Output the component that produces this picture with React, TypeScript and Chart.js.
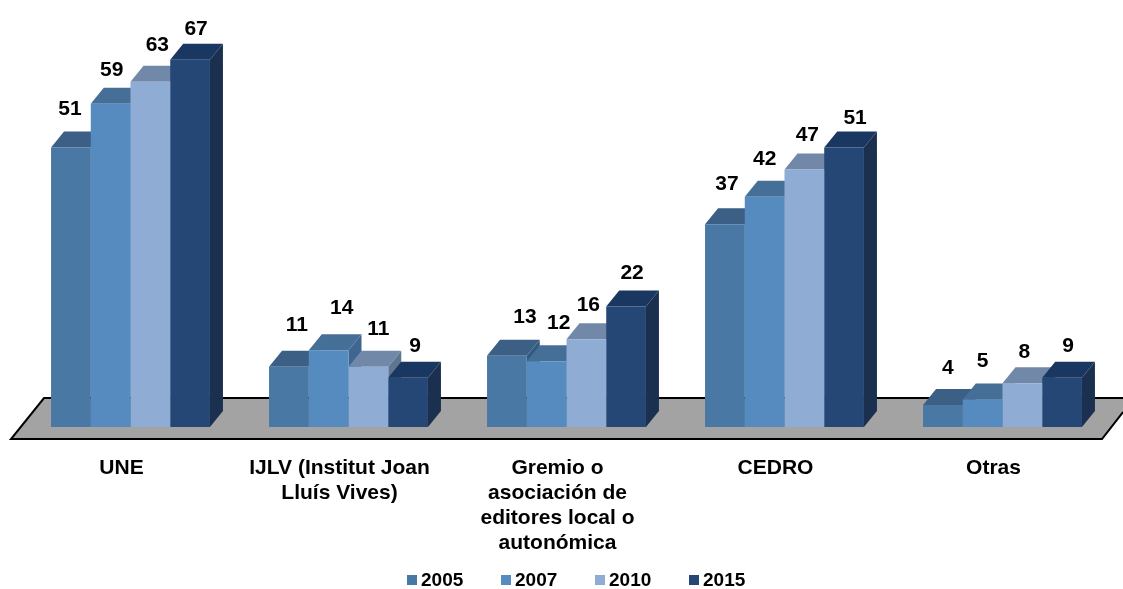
import React, { useEffect, useRef } from "react";
import { Chart, registerables } from "chart.js";

Chart.register(...registerables);

const categories: (string | string[])[] = [
  "UNE",
  ["IJLV (Institut Joan", "Lluís Vives)"],
  ["Gremio o", "asociación de", "editores local o", "autonómica"],
  "CEDRO",
  "Otras",
];
const years = ["2005", "2007", "2010", "2015"];
const values2005 = [51, 11, 13, 37, 4];
const values2007 = [59, 14, 12, 42, 5];
const values2010 = [63, 11, 16, 47, 8];
const values2015 = [67, 9, 22, 51, 9];

const frontColors = ["#4A78A4", "#568BBF", "#8FACD4", "#254775"];
const topColors = ["#3B5F85", "#466F98", "#7288A9", "#1A3761"];
const sideColors = ["#34597C", "#3F6690", "#5F7691", "#1B304F"];

// Hand placement of the value labels relative to each bar's top centre, per series.
const labelShiftX = [
  [-1, 8, 18, 2, 5],
  [1, 13, 12, 0, 0],
  [7, 10, 2, 3, 2],
  [6, 7, 6, 11, 6],
];
const labelShiftY = [
  [-38, -42, -39, -40, -37],
  [-33, -42, -38, -38, -38],
  [-37, -38, -34, -34, -31],
  [-31, -31, -33, -29, -31],
];

const FONT = '"Liberation Sans", Arial, sans-serif';
const DEPTH_X = 13;
const DEPTH_Y = 16;

const floorPlugin = {
  id: "floor",
  beforeDatasetsDraw(chart: any) {
    const { ctx, chartArea } = chart;
    const base = chartArea.bottom;
    const top = base - 29;
    const bottom = base + 12;
    ctx.save();
    ctx.beginPath();
    ctx.moveTo(44, top);
    ctx.lineTo(1123, top);
    ctx.lineTo(1123, top + 14);
    ctx.lineTo(1102, bottom);
    ctx.lineTo(11, bottom);
    ctx.closePath();
    ctx.fillStyle = "#A3A3A3";
    ctx.fill();
    ctx.beginPath();
    ctx.moveTo(1123, top);
    ctx.lineTo(44, top);
    ctx.lineTo(11, bottom);
    ctx.lineTo(1102, bottom);
    ctx.lineTo(1123, top + 14);
    ctx.strokeStyle = "#000000";
    ctx.lineWidth = 2;
    ctx.stroke();
    ctx.restore();
  },
};

const bars3dPlugin = {
  id: "bars3d",
  beforeDatasetsDraw(chart: any) {
    const { ctx } = chart;
    ctx.save();
    categories.forEach((_, c) => {
      chart.data.datasets.forEach((_d: any, s: number) => {
        const bar = chart.getDatasetMeta(s).data[c];
        const l = bar.x - bar.width / 2;
        const r = bar.x + bar.width / 2;
        const t = bar.y;
        const b = bar.base;
        ctx.fillStyle = sideColors[s];
        ctx.beginPath();
        ctx.moveTo(r, t);
        ctx.lineTo(r + DEPTH_X, t - DEPTH_Y);
        ctx.lineTo(r + DEPTH_X, b - DEPTH_Y);
        ctx.lineTo(r, b);
        ctx.closePath();
        ctx.fill();
        ctx.fillStyle = topColors[s];
        ctx.beginPath();
        ctx.moveTo(l, t);
        ctx.lineTo(l + DEPTH_X, t - DEPTH_Y);
        ctx.lineTo(r + DEPTH_X, t - DEPTH_Y);
        ctx.lineTo(r, t);
        ctx.closePath();
        ctx.fill();
      });
    });
    ctx.restore();
  },
  afterDatasetsDraw(chart: any) {
    const { ctx } = chart;
    ctx.save();
    ctx.font = `bold 21px ${FONT}`;
    ctx.fillStyle = "#000000";
    ctx.textAlign = "center";
    ctx.textBaseline = "middle";
    chart.data.datasets.forEach((d: any, s: number) => {
      chart.getDatasetMeta(s).data.forEach((bar: any, c: number) => {
        ctx.fillText(String(d.data[c]), bar.x + labelShiftX[s][c], bar.y + labelShiftY[s][c]);
      });
    });
    ctx.restore();
  },
};

const legendPlugin = {
  id: "swatchLegend",
  afterDraw(chart: any) {
    const { ctx } = chart;
    ctx.save();
    ctx.font = `bold 19px ${FONT}`;
    ctx.textBaseline = "middle";
    ctx.textAlign = "left";
    chart.data.datasets.forEach((d: any, s: number) => {
      const x = 407 + s * 94;
      ctx.fillStyle = d.backgroundColor;
      ctx.fillRect(x, 575, 10, 10);
      ctx.fillStyle = "#000000";
      ctx.fillText(d.label, x + 14, 581);
    });
    ctx.restore();
  },
};

export default function App() {
  const ref = useRef<HTMLCanvasElement>(null);
  useEffect(() => {
    const series = [values2005, values2007, values2010, values2015];
    const chart = new Chart(ref.current as HTMLCanvasElement, {
      type: "bar",
      data: {
        labels: categories as any,
        datasets: series.map((data, i) => ({
          label: years[i],
          data,
          backgroundColor: frontColors[i],
          borderWidth: 0,
          categoryPercentage: 0.729,
          barPercentage: 1,
        })),
      },
      plugins: [floorPlugin, bars3dPlugin, legendPlugin],
      options: {
        responsive: false,
        animation: false,
        layout: { padding: { left: 21.5, right: 11.5, top: 43.4, bottom: 0 } },
        plugins: { legend: { display: false }, tooltip: { enabled: false } },
        scales: {
          y: { display: false, min: 0, max: 70 },
          x: {
            afterFit(scale: any) {
              scale.height = 162;
            },
            grid: { display: false },
            border: { display: false },
            ticks: {
              autoSkip: false,
              maxRotation: 0,
              minRotation: 0,
              padding: 21,
              labelOffset: -9,
              color: "#000000",
              font: { family: FONT, size: 21, weight: "bold", lineHeight: 1.18 },
            },
          },
        },
      } as any,
    });
    return () => chart.destroy();
  }, []);
  return (
    <canvas
      ref={ref}
      width={1123}
      height={589}
      style={{ position: "absolute", left: 0, top: 0, display: "block" }}
    />
  );
}
